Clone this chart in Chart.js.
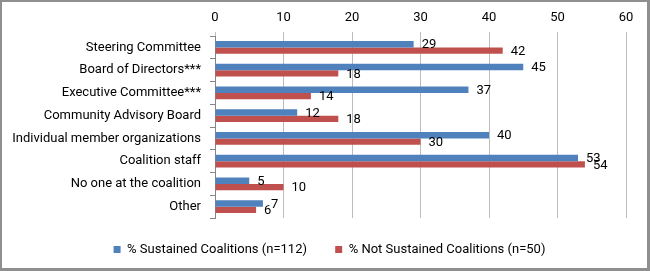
<!DOCTYPE html>
<html>
<head>
<meta charset="utf-8">
<script src="https://cdn.jsdelivr.net/npm/chart.js@4"></script>
<style>
  html, body { margin:0; padding:0; background:#fff; }
  #wrap { width:650px; height:271px; box-sizing:border-box; border:2px solid #8f8f8f; border-right-width:3px; border-bottom-width:3px; background:#fff; }
  #box { position:relative; width:645px; height:266px; }
</style>
</head>
<body>
<div id="wrap"><div id="box"><canvas id="c"></canvas></div></div>
<script>
  // data
  const categories = ["Steering Committee", "Board of Directors***", "Executive Committee***", "Community Advisory Board",
                      "Individual member organizations", "Coalition staff", "No one at the coalition", "Other"];
  const sustained    = [29, 45, 37, 12, 40, 53, 5, 7];
  const notSustained = [42, 18, 14, 18, 30, 54, 10, 6];
  const seriesNames  = ["% Sustained Coalitions (n=112)", "% Not Sustained Coalitions (n=50)"];
  const xMin = 0, xMax = 60, xStep = 10;

  const FONT = "Roboto, 'Liberation Sans', sans-serif";
  const BLUE = "#4f81bd", RED = "#c0504d";

  // value labels just past the end of each bar (like Excel's "outside end")
  const barLabels = {
    id:"barLabels",
    afterDatasetsDraw(chart){
      const ctx = chart.ctx;
      ctx.save();
      ctx.font = "13px " + FONT;
      ctx.fillStyle = "#000";
      ctx.textAlign = "left";
      ctx.textBaseline = "middle";
      chart.data.datasets.forEach((ds, i) => {
        chart.getDatasetMeta(i).data.forEach((bar, j) => {
          ctx.fillText(String(ds.data[j]), bar.x + 8, bar.y + 1);
        });
      });
      ctx.restore();
    }
  };

  // nudge the centred legend a bit to the right, as in the original
  const legendShift = {
    id:"legendShift",
    afterLayout(chart){ if(chart.legend) chart.legend.left += 31; }
  };

  new Chart(document.getElementById("c"), {
    type:"bar",
    data:{
      labels: categories,
      datasets:[
        { label: seriesNames[0] + " ", data: sustained, backgroundColor: BLUE, categoryPercentage: .55, barPercentage: 1 },
        { label: seriesNames[1], data: notSustained, backgroundColor: RED, categoryPercentage: .55, barPercentage: 1 }
      ]
    },
    options:{
      indexAxis:"y",
      responsive:true, maintainAspectRatio:false, animation:false,
      layout:{ padding:{ left:0, right:21, top:0, bottom:2 } },
      plugins:{
        legend:{
          position:"bottom",
          labels:{ boxWidth:7, boxHeight:7, padding:25, color:"#000", font:{ family:FONT, size:13 } }
        },
        tooltip:{ enabled:false }
      },
      scales:{
        x:{
          position:"top", min:xMin, max:xMax,
          ticks:{ stepSize:xStep, color:"#000", padding:6, font:{ family:FONT, size:13 } },
          grid:{ color:"#bdbdbd", tickLength:4 },
          border:{ display:false },
          afterFit(s){ s.height = 34; }
        },
        y:{
          ticks:{ color:"#000", padding:9, font:{ family:FONT, size:13 } },
          grid:{ drawOnChartArea:false, tickLength:5, color:"#868686", offset:true },
          border:{ display:true, color:"#868686" },
          afterFit(s){ s.width = 213; }
        }
      }
    },
    plugins:[barLabels, legendShift]
  });
</script>
</body>
</html>
